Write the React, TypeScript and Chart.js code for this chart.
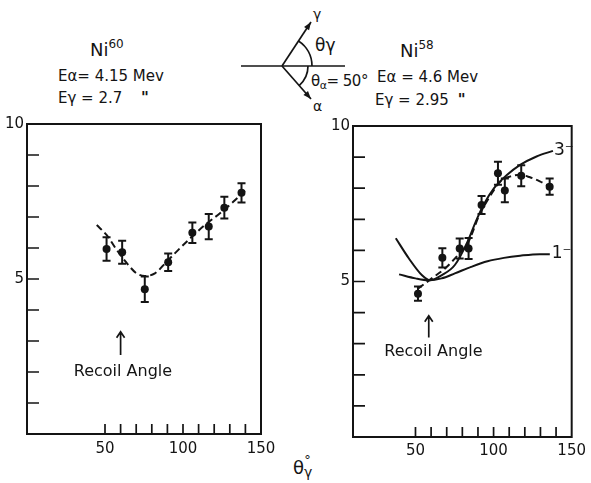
import React, { useEffect, useRef } from "react";
import { Chart, registerables } from "chart.js";

Chart.register(...registerables);

// ---------- Ni60 panel (left) ----------
const ni60Angles = [51, 61, 75.5, 90.5, 106, 116.5, 126.5, 137.5];
const ni60Values = [5.97, 5.86, 4.67, 5.54, 6.49, 6.69, 7.3, 7.78];
const ni60Errors = [0.38, 0.37, 0.41, 0.28, 0.33, 0.41, 0.35, 0.31];
const ni60FitAngles = [44.7, 51, 57.5, 64, 70.3, 75.6, 82, 89.5, 97, 105.6, 114, 123.7, 132.2, 139.7];
const ni60FitValues = [6.74, 6.42, 5.94, 5.51, 5.18, 5.1, 5.18, 5.56, 5.94, 6.36, 6.74, 7.12, 7.49, 7.85];

// ---------- Ni58 panel (right) ----------
const ni58Angles = [51.6, 67.2, 78.3, 84, 92.3, 102.8, 107.2, 117.7, 135.9];
const ni58Values = [4.61, 5.76, 6.06, 6.06, 7.46, 8.48, 7.93, 8.4, 8.05];
const ni58Errors = [0.23, 0.31, 0.32, 0.34, 0.29, 0.37, 0.38, 0.34, 0.26];
const ni58FitAngles = [51.6, 60.4, 68.9, 77.2, 83.5, 90.9, 98.2, 104.5, 110.8, 117, 123.3, 129.6, 136];
const ni58FitValues = [4.77, 5.1, 5.42, 5.85, 6.23, 7.14, 7.78, 8.22, 8.38, 8.43, 8.35, 8.22, 8.05];
const theory3Angles = [37.4, 45.8, 54.2, 59.4, 66.7, 75.2, 83.5, 88.8, 94, 100.3, 108.7, 117, 127.5, 138];
const theory3Values = [6.39, 5.74, 5.2, 5.04, 5.2, 5.53, 6.3, 6.95, 7.5, 8.0, 8.43, 8.75, 9.02, 9.2];
const theory1Angles = [39.5, 50, 58.4, 66.7, 75.2, 85.6, 96.1, 106.6, 117, 129.6, 136];
const theory1Values = [5.23, 5.1, 5.04, 5.1, 5.26, 5.47, 5.65, 5.76, 5.83, 5.88, 5.88];

// ---------- axes ----------
const xTickValues = [50, 60, 70, 80, 90, 100, 110, 120, 130, 140, 150];
const xTickLabels = [50, 100, 150];
const xMarkValues = [50, 60, 70, 80, 90, 100, 110, 120, 130, 140];
const yTickValues = [0, 1, 2, 3, 4, 5, 6, 7, 8, 9, 10];
const yTickLabels = [5, 10];
const yMarkValues = [1, 2, 3, 4, 5, 6, 7, 8, 9];

const INK = "#141414";
const FONT = "'DejaVu Sans', sans-serif";

const pts = (xs: number[], ys: number[]) => xs.map((x, i) => ({ x, y: ys[i] }));

const framePlugin = {
  id: "frame",
  beforeDatasetsDraw(chart: any) {
    const { ctx, scales } = chart;
    const x = scales.x, y = scales.y;
    ctx.save();
    ctx.strokeStyle = INK;
    ctx.lineWidth = 2;
    chart.data.datasets.forEach((ds: any) => {
      if (!ds.errors) return;
      ds.data.forEach((p: any, j: number) => {
        const e = ds.errors[j];
        const px = x.getPixelForValue(p.x);
        const t = y.getPixelForValue(p.y + e);
        const b = y.getPixelForValue(p.y - e);
        ctx.beginPath();
        ctx.moveTo(px, t); ctx.lineTo(px, b);
        ctx.moveTo(px - 4, t); ctx.lineTo(px + 4, t);
        ctx.moveTo(px - 4, b); ctx.lineTo(px + 4, b);
        ctx.stroke();
      });
    });
    ctx.restore();
  },
  afterDatasetsDraw(chart: any, _args: any, opts: any) {
    const { ctx, chartArea: a, scales } = chart;
    const x = scales.x, y = scales.y;
    ctx.save();
    ctx.strokeStyle = INK;
    ctx.fillStyle = INK;
    ctx.lineWidth = 2;
    ctx.strokeRect(a.left, a.top, a.right - a.left, a.bottom - a.top);
    ctx.lineWidth = 1.7;
    ctx.beginPath();
    for (const v of yMarkValues) {
      const py = y.getPixelForValue(v);
      ctx.moveTo(a.left, py); ctx.lineTo(a.left + 12, py);
    }
    for (const v of xMarkValues) {
      const px = x.getPixelForValue(v);
      ctx.moveTo(px, a.bottom); ctx.lineTo(px, a.bottom - 10);
    }
    ctx.stroke();
    if (opts.recoil) {
      const r = opts.recoil;
      const px = x.getPixelForValue(r.x);
      const y0 = y.getPixelForValue(r.from);
      const y1 = y.getPixelForValue(r.to);
      ctx.lineWidth = 1.7;
      ctx.beginPath();
      ctx.moveTo(px, y0); ctx.lineTo(px, y1);
      ctx.moveTo(px - 4, y1 + 6); ctx.lineTo(px, y1); ctx.lineTo(px + 4, y1 + 6);
      ctx.stroke();
      ctx.font = `16px ${FONT}`;
      ctx.textAlign = "center";
      ctx.textBaseline = "middle";
      ctx.fillText(r.text, x.getPixelForValue(r.textX), y.getPixelForValue(r.textY));
    }
    if (opts.labels) {
      ctx.font = `17px ${FONT}`;
      ctx.textAlign = "left";
      ctx.textBaseline = "middle";
      for (const l of opts.labels) {
        ctx.fillText(l.text, x.getPixelForValue(l.x), y.getPixelForValue(l.y));
      }
    }
    ctx.restore();
  },
};

function makeConfig(p: any) {
  const tickFont = { family: FONT, size: 15 };
  return {
    type: "line",
    data: { datasets: p.datasets },
    options: {
      animation: false,
      responsive: false,
      events: [],
      layout: { padding: p.padding },
      plugins: {
        legend: { display: false },
        tooltip: { enabled: false },
        frame: p.frame,
      },
      scales: {
        x: {
          type: "linear",
          min: p.xMin,
          max: 150,
          afterBuildTicks: (s: any) => { s.ticks = xTickValues.map((v) => ({ value: v })); },
          afterFit: (s: any) => { s.height = 30; },
          grid: { display: false, drawTicks: false },
          border: { display: false },
          ticks: {
            autoSkip: false, maxRotation: 0, padding: p.xPad, color: INK, font: tickFont,
            callback: (v: any) => (xTickLabels.includes(v) ? String(v) : ""),
          },
        },
        y: {
          type: "linear",
          min: 0,
          max: 10,
          afterBuildTicks: (s: any) => { s.ticks = yTickValues.map((v) => ({ value: v })); },
          afterFit: (s: any) => { s.width = p.yWidth; },
          grid: { display: false, drawTicks: false },
          border: { display: false },
          ticks: {
            autoSkip: false, padding: 3, color: INK, font: tickFont,
            callback: (v: any) => (yTickLabels.includes(v) ? String(v) : ""),
          },
        },
      },
    },
    plugins: [framePlugin],
  };
}

const pointStyle = {
  showLine: false, pointRadius: 4, pointBackgroundColor: INK, pointBorderWidth: 0, borderColor: INK,
};
const curveStyle = {
  borderColor: INK, borderWidth: 2, pointRadius: 0, cubicInterpolationMode: "monotone", fill: false,
};

const leftPanel = {
  xMin: 0,
  yWidth: 27,
  xPad: 6,
  padding: { left: 0, top: 24, right: 34, bottom: 19 },
  datasets: [
    { ...curveStyle, borderDash: [7, 4], data: pts(ni60FitAngles, ni60FitValues) },
    { ...pointStyle, data: pts(ni60Angles, ni60Values), errors: ni60Errors },
  ],
  frame: { recoil: { x: 60, from: 2.55, to: 3.3, textX: 61.5, textY: 2.0, text: "Recoil Angle" } },
};

const rightPanel = {
  xMin: 10,
  yWidth: 30,
  xPad: 5,
  padding: { left: 28, top: 26, right: 15, bottom: 16 },
  datasets: [
    { ...curveStyle, data: pts(theory3Angles, theory3Values) },
    { ...curveStyle, data: pts(theory1Angles, theory1Values) },
    { ...curveStyle, borderDash: [7, 4], data: pts(ni58FitAngles, ni58FitValues) },
    { ...pointStyle, data: pts(ni58Angles, ni58Values), errors: ni58Errors },
  ],
  frame: {
    recoil: { x: 58.5, from: 3.2, to: 3.9, textX: 61.5, textY: 2.73, text: "Recoil Angle" },
    labels: [
      { text: "3\u207B", x: 138.7, y: 9.22 },
      { text: "1\u207B", x: 137.2, y: 5.9 },
    ],
  },
};

function Panel({ cfg, left, top, width, height }: any) {
  const ref = useRef<HTMLCanvasElement>(null);
  useEffect(() => {
    const chart = new Chart(ref.current as HTMLCanvasElement, makeConfig(cfg) as any);
    return () => chart.destroy();
  }, []);
  return (
    <canvas
      ref={ref}
      width={width}
      height={height}
      style={{ position: "absolute", left, top, width, height }}
    />
  );
}

function arrowHead(x1: number, y1: number, x2: number, y2: number, len = 8, half = 3) {
  const dx = x2 - x1, dy = y2 - y1;
  const d = Math.hypot(dx, dy);
  const ux = dx / d, uy = dy / d;
  const bx = x2 - ux * len, by = y2 - uy * len;
  return `${x2},${y2} ${bx - uy * half},${by + ux * half} ${bx + uy * half},${by - ux * half}`;
}

function Header() {
  const vx = 282, vy = 66;
  const gx = 311, gy = 22;
  const ax = 311, ay = 99;
  const ga = Math.atan2(gy - vy, gx - vx);
  const aa = Math.atan2(ay - vy, ax - vx);
  return (
    <svg
      width={591}
      height={483}
      style={{ position: "absolute", left: 0, top: 0 }}
      fontFamily={FONT}
      fill={INK}
    >
      {/* Ni60 block */}
      <text x={90} y={56} fontSize={18}>Ni<tspan dy={-8} fontSize={12}>60</tspan></text>
      <text x={58} y={81} fontSize={15}>Eα= 4.15 Mev</text>
      <text x={58} y={103} fontSize={15}>Eγ = 2.7 <tspan dx={14} fontWeight="bold">"</tspan></text>

      {/* Ni58 block */}
      <text x={400} y={57} fontSize={18}>Ni<tspan dy={-8} fontSize={12}>58</tspan></text>
      <text x={377} y={82} fontSize={15}>Eα = 4.6 Mev</text>
      <text x={375} y={105} fontSize={15}>Eγ = 2.95 <tspan dx={4} fontWeight="bold">"</tspan></text>

      {/* geometry sketch */}
      <g stroke={INK} strokeWidth={1.7} fill="none">
        <line x1={241} y1={vy} x2={345} y2={vy} />
        <line x1={vx} y1={vy} x2={gx} y2={gy} />
        <line x1={vx} y1={vy} x2={ax} y2={ay} />
        <path d={`M ${vx + 30} ${vy} A 30 30 0 0 0 ${vx + 30 * Math.cos(ga)} ${vy + 30 * Math.sin(ga)}`} />
        <path d={`M ${vx + 26} ${vy} A 26 26 0 0 1 ${vx + 26 * Math.cos(aa)} ${vy + 26 * Math.sin(aa)}`} />
      </g>
      <polygon points={arrowHead(vx, vy, gx, gy)} />
      <polygon points={arrowHead(vx, vy, ax, ay)} />
      <text x={313} y={19} fontSize={14}>γ</text>
      <text x={313} y={111} fontSize={14}>α</text>
      <text x={315} y={51} fontSize={17}>θγ</text>
      <text x={311} y={86} fontSize={15} letterSpacing={-0.5}>θ<tspan dy={3} fontSize={11}>α</tspan><tspan dy={-3}>= 50°</tspan></text>

      {/* x axis title */}
      <text x={293} y={474} fontSize={18}>θ<tspan dy={3} fontSize={14}>γ</tspan><tspan dx={-8} dy={-13} fontSize={13}>°</tspan></text>
    </svg>
  );
}

export default function App() {
  return (
    <div
      style={{
        position: "absolute",
        left: 0,
        top: 0,
        width: 591,
        height: 483,
        overflow: "hidden",
        background: "#fff",
      }}
    >
      <Header />
      <Panel cfg={leftPanel} left={0} top={100} width={295} height={383} />
      <Panel cfg={rightPanel} left={295} top={100} width={296} height={383} />
    </div>
  );
}
